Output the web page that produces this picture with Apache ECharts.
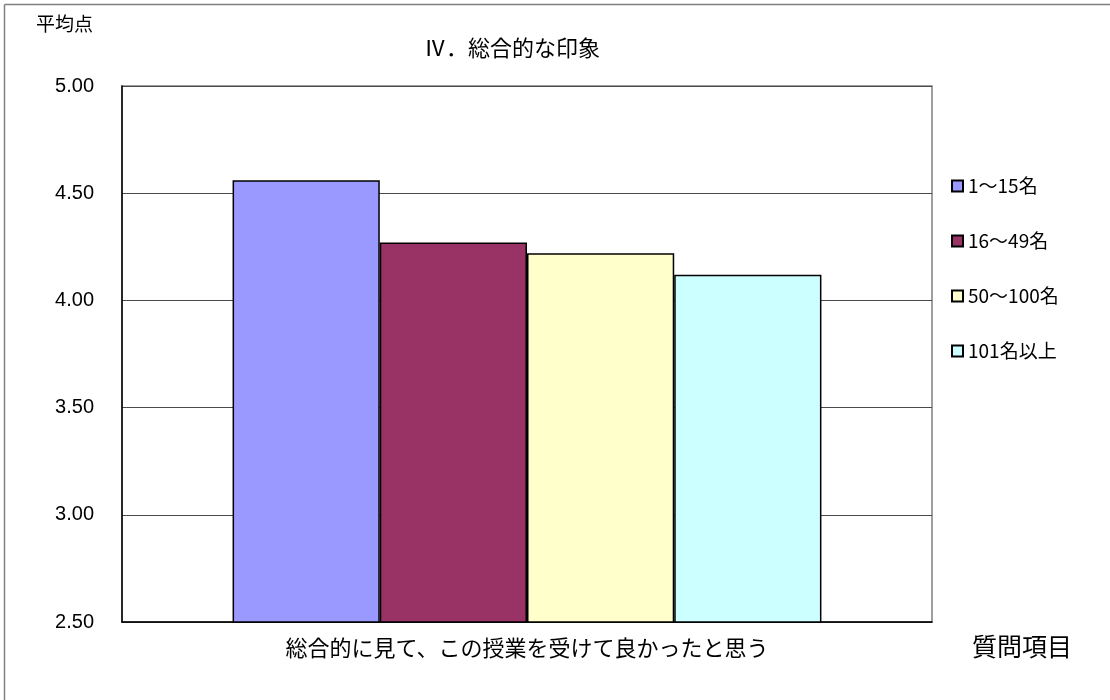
<!DOCTYPE html>
<html>
<head>
<meta charset="utf-8">
<script src="https://cdn.jsdelivr.net/npm/echarts@6/dist/echarts.min.js"></script>
<style>
  html, body { margin: 0; padding: 0; background: #ffffff; }
  #chart { width: 1110px; height: 700px; }
</style>
</head>
<body>
<div id="chart"></div>
<script>
// Question item (single category) and class-size groups
const categories = ['総合的に見て、この授業を受けて良かったと思う'];
const groupNames = ['1～15名', '16～49名', '50～100名', '101名以上'];
const groupColors = ['#9999FF', '#993366', '#FFFFCC', '#CCFFFF'];
// Average score per group
const groupValues = [4.56, 4.27, 4.22, 4.12];

const yMin = 2.5, yMax = 5.0, yStep = 0.5;
const JP = '"Noto Sans CJK JP", "Noto Sans", sans-serif';
const NUM = '"Liberation Sans", Arial, sans-serif';

const chart = echarts.init(document.getElementById('chart'), null, { renderer: 'canvas' });

const series = groupNames.map((name, i) => ({
  name: name,
  type: 'bar',
  data: [groupValues[i]],
  barGap: '0%',
  barCategoryGap: '27.3%',
  itemStyle: { color: groupColors[i], borderColor: '#000000', borderWidth: 1.5 },
  emphasis: { disabled: true }
}));

chart.setOption({
  animation: false,
  backgroundColor: '#ffffff',
  title: {
    text: 'Ⅳ．総合的な印象',
    left: 419,
    top: 32,
    textStyle: { fontFamily: JP, fontSize: 22, fontWeight: 'normal', color: '#000000' }
  },
  legend: {
    orient: 'vertical',
    left: 946,
    top: 171,
    itemWidth: 11,
    itemHeight: 11,
    itemGap: 35,
    icon: 'rect',
    selectedMode: false,
    data: groupNames,
    textStyle: { fontFamily: JP, fontSize: 19, lineHeight: 20, color: '#000000' }
  },
  grid: {
    left: 122,
    right: 178,
    top: 86,
    bottom: 78,
    show: true,
    borderColor: '#808080',
    borderWidth: 1.5,
    containLabel: false
  },
  xAxis: {
    type: 'category',
    data: categories,
    axisLine: { show: true, lineStyle: { color: '#000000', width: 1.5 } },
    axisTick: { show: false },
    axisLabel: { margin: 15, fontFamily: JP, fontSize: 22, color: '#000000' }
  },
  yAxis: {
    type: 'value',
    min: yMin,
    max: yMax,
    interval: yStep,
    axisLine: { show: true, lineStyle: { color: '#000000', width: 1.5 } },
    axisTick: { show: false },
    splitLine: { show: true, lineStyle: { color: '#4a4a4a', width: 1 } },
    axisLabel: {
      margin: 28,
      fontFamily: NUM,
      fontSize: 20,
      color: '#000000',
      formatter: v => v.toFixed(2)
    }
  },
  graphic: [
    // outer chart-area frame (left and top edges)
    { type: 'line', shape: { x1: 4.5, y1: 4.5, x2: 1110, y2: 4.5 }, style: { stroke: '#808080', lineWidth: 1.5 } },
    { type: 'line', shape: { x1: 4.5, y1: 4.5, x2: 4.5, y2: 700 }, style: { stroke: '#808080', lineWidth: 1.5 } },
    {
      type: 'text', left: 36, top: 14,
      style: { text: '平均点', font: '19px ' + JP, fill: '#000000' }
    },
    {
      type: 'text', left: 972, top: 634,
      style: { text: '質問項目', font: '25px ' + JP, fill: '#000000' }
    }
  ],
  series: series
});
</script>
</body>
</html>
